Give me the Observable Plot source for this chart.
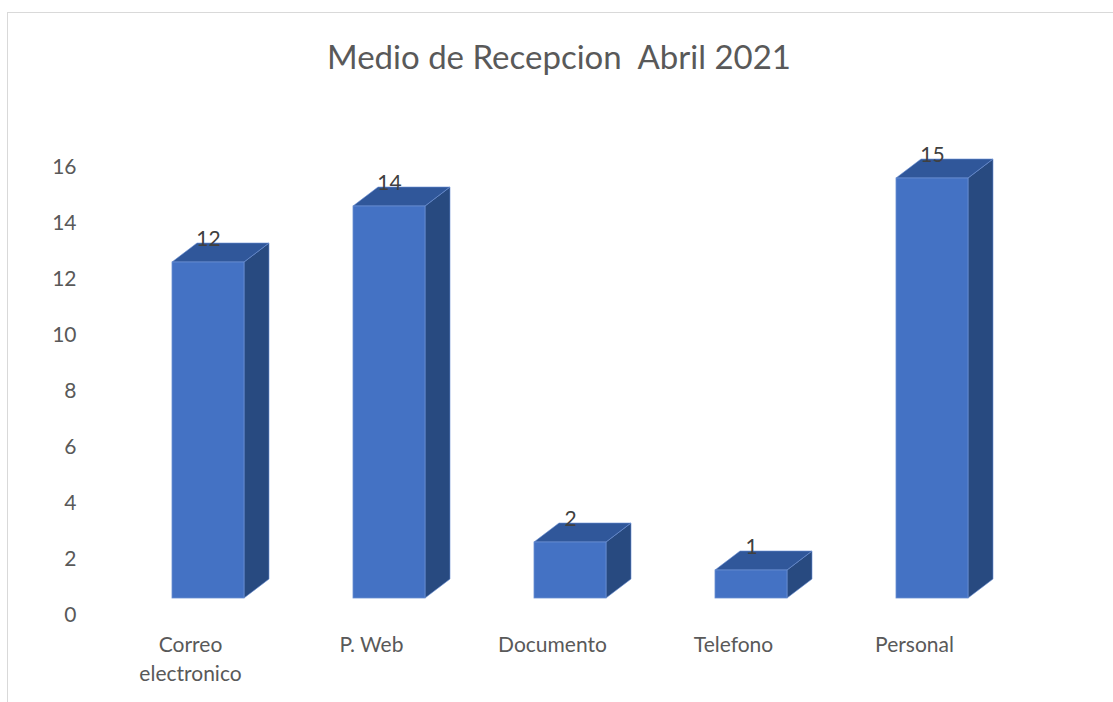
<!DOCTYPE html>
<html>
<head>
<meta charset="utf-8">
<script src="https://cdn.jsdelivr.net/npm/d3@7"></script>
<script src="https://cdn.jsdelivr.net/npm/@observablehq/plot@0.6"></script>
<style>
  html, body { margin: 0; padding: 0; background: #fff; }
  #wrap { position: relative; width: 1113px; height: 702px; overflow: hidden; font-family: Lato, "Open Sans", sans-serif; }
  #border { position: absolute; left: 7px; top: 12px; width: 1200px; height: 800px; border-left: 1.5px solid #d9d9d9; border-top: 1.5px solid #d9d9d9; }
  #title { position: absolute; left: 0; width: 1118px; top: 40px; text-align: center; font-size: 33px; line-height: 33px; color: #595959; white-space: pre; }
  #chart { position: absolute; left: 0; top: 0; }
</style>
</head>
<body>
<div id="wrap">
  <div id="border"></div>
  <div id="chart"></div>
  <div id="title">Medio de Recepcion  Abril 2021</div>
</div>
<script>
const categories = ["Correo electronico", "P. Web", "Documento", "Telefono", "Personal"];
const categoryLabels = ["Correo\nelectronico", "P. Web", "Documento", "Telefono", "Personal"];
const values = [12, 14, 2, 1, 15];
const yTicks = [0, 2, 4, 6, 8, 10, 12, 14, 16];

const data = categories.map((c, i) => ({cat: c, label: categoryLabels[i], value: values[i]}));

const FRONT = "#4472C4", TOP = "#30579A", SIDE = "#284A80", EDGE = "#6a8fd3";
const DEPTH_X = 25, DEPTH_Y = 19, LIFT = 17;

function box3d(index, scales, vals, dims, context) {
  const g = d3.create("svg:g");
  const bwRaw = scales.x.bandwidth;
  const bw = typeof bwRaw === "function" ? bwRaw() : bwRaw;
  for (const i of index) {
    const d = data[i];
    const x0 = scales.x(d.cat);
    const x1 = x0 + bw;
    const yb = scales.y(0) - LIFT;
    const yt = scales.y(d.value) - LIFT;
    g.append("path")
      .attr("d", `M${x1},${yt}L${x1 + DEPTH_X},${yt - DEPTH_Y}L${x1 + DEPTH_X},${yb - DEPTH_Y}L${x1},${yb}Z`)
      .attr("fill", SIDE).attr("stroke", EDGE).attr("stroke-width", 0.6).attr("stroke-linejoin", "round");
    g.append("path")
      .attr("d", `M${x0},${yt}L${x0 + DEPTH_X},${yt - DEPTH_Y}L${x1 + DEPTH_X},${yt - DEPTH_Y}L${x1},${yt}Z`)
      .attr("fill", TOP).attr("stroke", EDGE).attr("stroke-width", 0.6).attr("stroke-linejoin", "round");
    g.append("rect")
      .attr("x", x0).attr("y", yt).attr("width", bw).attr("height", yb - yt)
      .attr("fill", FRONT).attr("stroke", EDGE).attr("stroke-width", 0.8);
  }
  return g.node();
}

const chart = Plot.plot({
  width: 1113,
  height: 702,
  marginTop: 0, marginBottom: 0, marginLeft: 0, marginRight: 0,
  style: {fontFamily: "Lato, 'Open Sans', sans-serif", background: "transparent", overflow: "visible"},
  x: {domain: categories, range: [117.5, 1022.5], paddingInner: 0.6, paddingOuter: 0.3, axis: null},
  y: {domain: [0, 16], range: [615, 167], axis: null},
  marks: [
    Plot.text(yTicks, {
      y: d => d, text: d => String(d),
      frameAnchor: "left", textAnchor: "end", dx: 76,
      fontSize: 21, fill: "#595959"
    }),
    Plot.barY(data, {x: "cat", y: "value", render: box3d}),
    Plot.text(data, {
      x: "cat", y: "value", text: d => String(d.value),
      dy: -LIFT - DEPTH_Y + 2, lineAnchor: "bottom",
      fontSize: 21, fill: "#404040"
    }),
    Plot.text(data, {
      x: "cat", y: () => 0, text: "label",
      dx: -18, dy: 17, lineAnchor: "top", lineHeight: 1.34,
      fontSize: 21, fill: "#595959"
    })
  ]
});
document.getElementById("chart").appendChild(chart);
</script>
</body>
</html>
